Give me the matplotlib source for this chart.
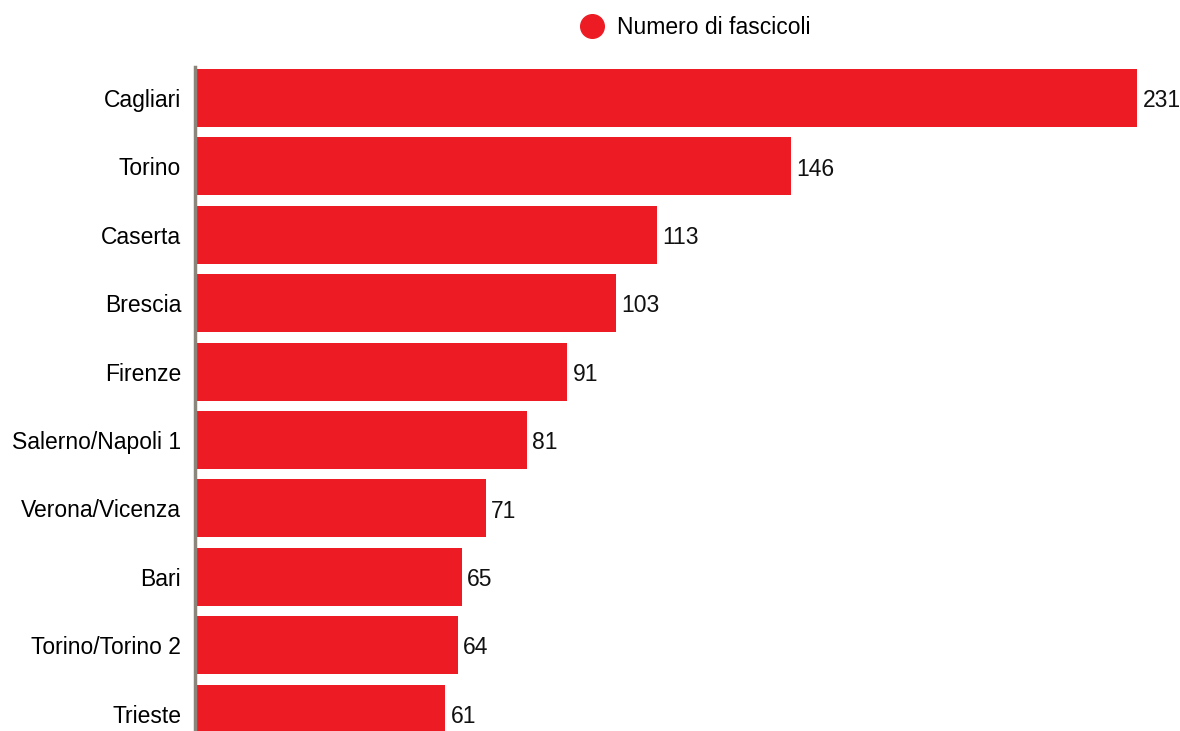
import matplotlib
matplotlib.use("Agg")
import matplotlib.pyplot as plt
from matplotlib.lines import Line2D

# Data
cities = ["Cagliari", "Torino", "Caserta", "Brescia", "Firenze",
          "Salerno/Napoli 1", "Verona/Vicenza", "Bari", "Torino/Torino 2", "Trieste"]
counts = [231, 146, 113, 103, 91, 81, 71, 65, 64, 61]
series_name = "Numero di fascicoli"

RED = "#ED1C24"
FS = 16.5
plt.rcParams["font.family"] = ["Liberation Sans", "DejaVu Sans"]

fig = plt.figure(figsize=(11.8, 7.31), dpi=100)
W, H = 1180, 731
ax = fig.add_axes([195 / W, 0, 1 - 195 / W, 1 - 67 / H])

pos = list(range(len(cities)))
ax.barh(pos, counts, height=0.85, color=RED, left=0.5)

for p, v in zip(pos, counts):
    ax.text(v + 1.8, p + 0.04, str(v), va="center", ha="left", fontsize=FS, color="#111111")

ax.set_xlim(0, 242)
ax.set_ylim(9.254, -0.453)
ax.set_yticks(pos)
ax.set_yticklabels(cities, fontsize=FS)
ax.tick_params(axis="y", length=0, pad=10)
ax.set_xticks([])
for s in ["top", "right", "bottom"]:
    ax.spines[s].set_visible(False)
ax.spines["left"].set_color("#8c857b")
ax.spines["left"].set_linewidth(2.5)

handle = Line2D([], [], marker="o", linestyle="none", markersize=17,
                markerfacecolor=RED, markeredgecolor=RED)
fig.legend([handle], [series_name], loc="center left", bbox_to_anchor=(581 / W, 1 - 28 / H),
           frameon=False, fontsize=FS, borderpad=0, borderaxespad=0,
           handlelength=1.0, handletextpad=0.55)

fig.savefig("out.png", dpi=100)
